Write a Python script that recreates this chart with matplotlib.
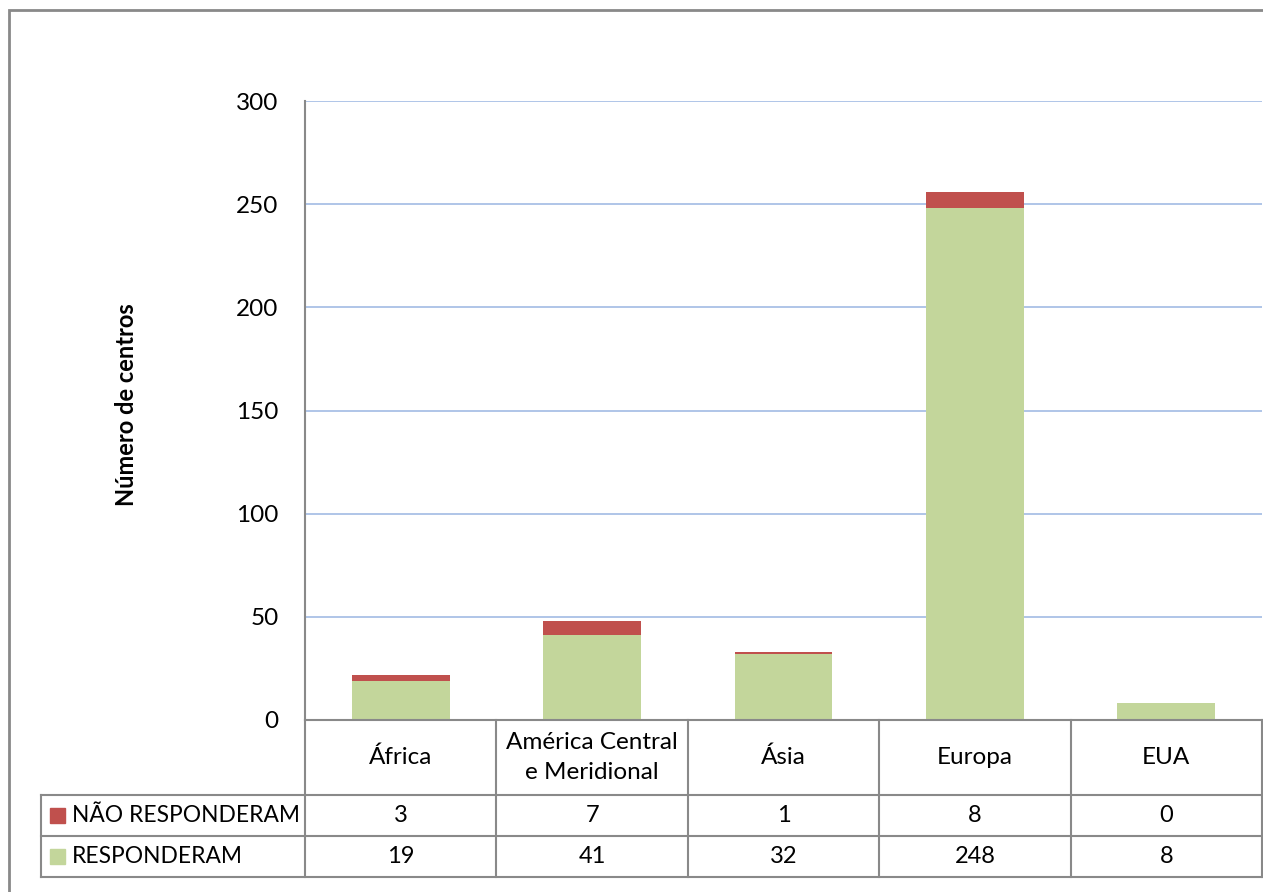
import matplotlib.pyplot as plt
import numpy as np

# ----- Data ------------------------------------------------------------------------------------------------------- #

CATEGORIES = ['África', 'América Central\ne Meridional', 'Ásia', 'Europa', 'EUA']
RESPONDERAM = [19, 41, 32, 248, 8]
NAO_RESPONDERAM = [3, 7, 1, 8, 0]
SERIES_NAMES = ['NÃO RESPONDERAM', 'RESPONDERAM']
Y_TICKS = [0, 50, 100, 150, 200, 250, 300]

# ----- Styling ---------------------------------------------------------------------------------------------------- #

GREEN = '#C3D69B'
RED = '#C0504D'
GRID = '#A9C0E6'
LINE = '#898989'
FONT = 'Lato'
FS = 17

W, H = 1263, 892
plt.rcParams['font.family'] = [FONT, 'DejaVu Sans']

fig = plt.figure(figsize=(W / 100, H / 100), dpi=100)

# Plot area in pixel coordinates
X0, X1 = 305, 1262
Y_TOP, Y_BOT = 101, 720
ax = fig.add_axes([X0 / W, 1 - Y_BOT / H, (X1 - X0) / W, (Y_BOT - Y_TOP) / H])

x = np.arange(len(CATEGORIES))
ax.bar(x, RESPONDERAM, width=0.51, color=GREEN, zorder=3)
ax.bar(x, NAO_RESPONDERAM, width=0.51, bottom=RESPONDERAM, color=RED, zorder=3)

ax.set_xlim(-0.5, len(CATEGORIES) - 0.5)
ax.set_ylim(0, 300)
ax.set_yticks(Y_TICKS)
ax.set_yticklabels([str(t) for t in Y_TICKS], fontsize=FS + 0.5)
ax.set_xticks([])
ax.tick_params(axis='y', length=0, pad=19)
ax.yaxis.grid(True, color=GRID, linewidth=1.3, zorder=0)
for side in ['top', 'right', 'bottom']:
    ax.spines[side].set_visible(False)
ax.spines['left'].set_color(LINE)
ax.spines['left'].set_linewidth(1.5)

fig.text(127 / W, 1 - 405 / H, 'Número de centros', rotation=90, ha='center', va='center',
         fontsize=FS, fontweight='bold')


# ----- Data table ------------------------------------------------------------------------------------------------- #

def px(xp, yp):
    return xp / W, 1 - yp / H


def hline(xa, xb, yp):
    fig.add_artist(plt.Line2D([xa / W, xb / W], [1 - yp / H, 1 - yp / H], color=LINE, linewidth=1.5))


def vline(xp, ya, yb):
    fig.add_artist(plt.Line2D([xp / W, xp / W], [1 - ya / H, 1 - yb / H], color=LINE, linewidth=1.5))


ROW_TOP, ROW1, ROW2, ROW3 = 720, 795, 836, 877
LEG_X = 41
col_w = (X1 - X0) / len(CATEGORIES)

hline(X0, X1, ROW_TOP)
hline(LEG_X, X1, ROW1)
hline(LEG_X, X1, ROW2)
hline(LEG_X, X1, ROW3)
vline(LEG_X, ROW1, ROW3)
for i in range(len(CATEGORIES) + 1):
    vline(X0 + i * col_w, ROW_TOP, ROW3)

for i, cat in enumerate(CATEGORIES):
    cx = X0 + (i + 0.5) * col_w
    fig.text(*px(cx, (ROW_TOP + ROW1) / 2), cat, ha='center', va='center', fontsize=FS + 0.5,
             linespacing=1.5)
    fig.text(*px(cx, (ROW1 + ROW2) / 2), str(NAO_RESPONDERAM[i]), ha='center', va='center', fontsize=FS)
    fig.text(*px(cx, (ROW2 + ROW3) / 2), str(RESPONDERAM[i]), ha='center', va='center', fontsize=FS)

# Legend keys inside the table
for (ya, yb), name, color in [((ROW1, ROW2), SERIES_NAMES[0], RED), ((ROW2, ROW3), SERIES_NAMES[1], GREEN)]:
    yc = (ya + yb) / 2
    fig.add_artist(plt.Rectangle(px(50, yc + 7), 15 / W, 15 / H, color=color))
    fig.text(*px(72, yc), name, ha='left', va='center', fontsize=16.4)

# Outer chart border
fig.add_artist(plt.Rectangle(px(9, H + 5), (W + 10) / W, (H - 5) / H, fill=False, edgecolor=LINE,
                             linewidth=2))

fig.savefig('out.png', dpi=100)
